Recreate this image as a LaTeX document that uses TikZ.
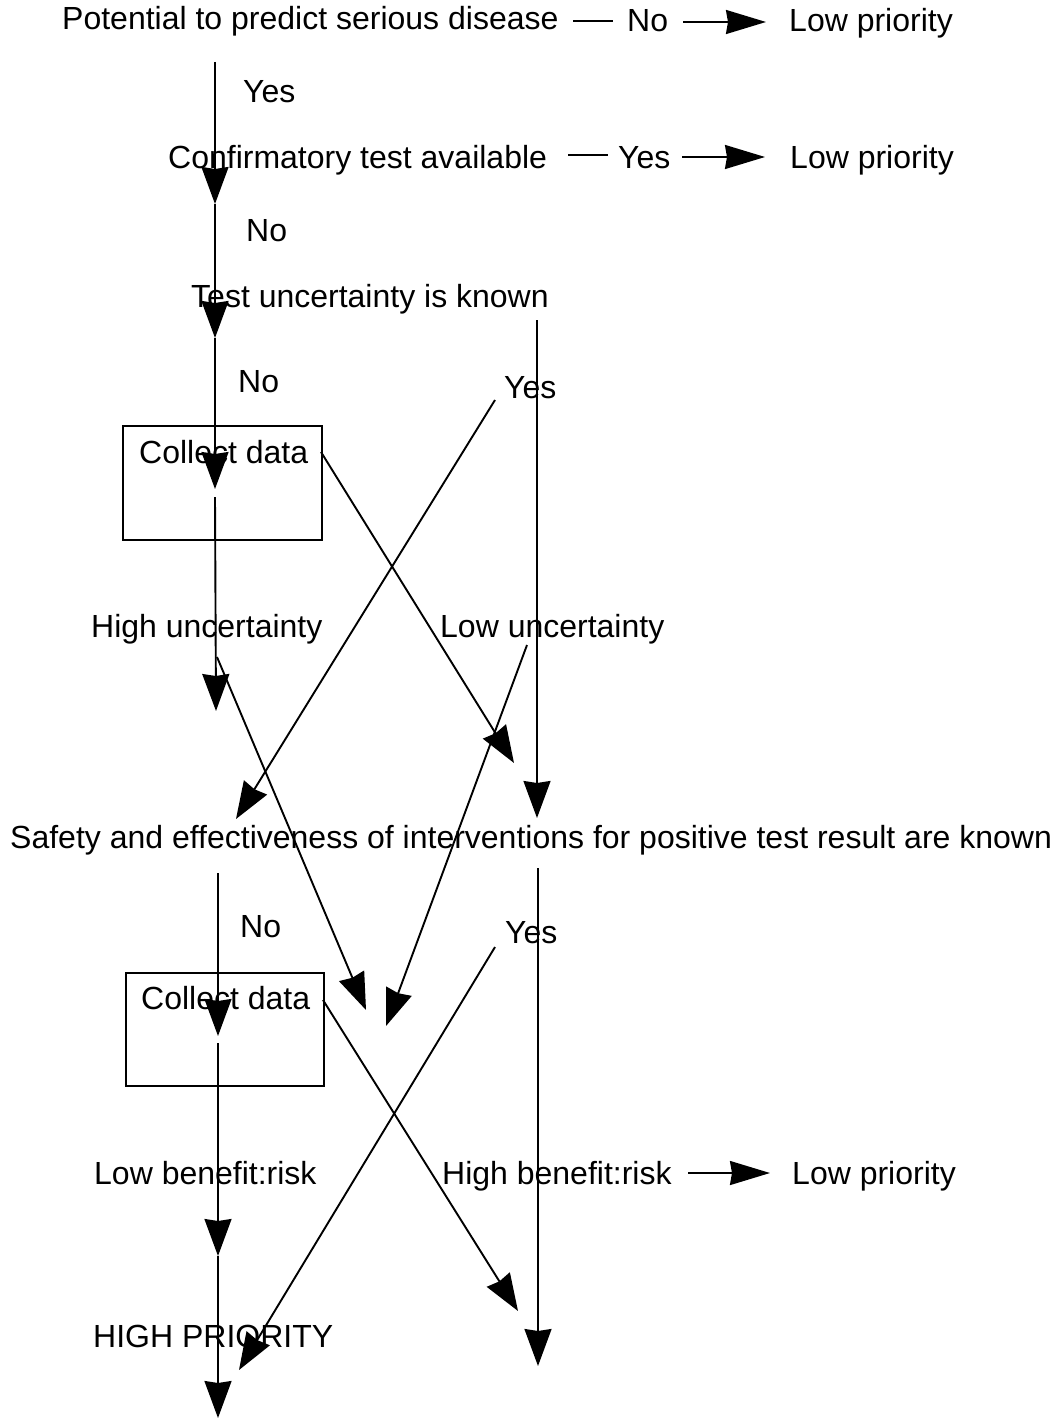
\documentclass[tikz,border=0pt]{standalone}
\usepackage{fontspec}
\setmainfont{Liberation Sans}
\usetikzlibrary{arrows.meta}
\begin{document}
\begin{tikzpicture}[x=1pt,y=-1pt,
  txt/.style={inner sep=0pt,anchor=base west,font=\fontsize{32}{37}\selectfont},
  ln/.style={line width=1.9pt},
  arr/.style={line width=1.9pt,-{Stealth[length=37pt,width=27pt,inset=2pt]}},
  harr/.style={line width=1.9pt,-{Stealth[length=40pt,width=24pt,inset=2pt]}},
  boxst/.style={draw,line width=2pt,anchor=north west,inner sep=0pt}]
\useasboundingbox (0,0) rectangle (1055,1418);
% texts
\node[txt] (pot) at (62,30) {Potential to predict serious disease};
\node[txt] (no1) at (627,32) {No};
\node[txt] (lp1) at (789,32) {Low priority};
\node[txt] (yes1) at (243,103) {Yes};
\node[txt] (conf) at (168,168) {Confirmatory test available};
\node[txt] (yes2) at (618,168) {Yes};
\node[txt] (lp2) at (790,168) {Low priority};
\node[txt] (no2) at (246,241) {No};
\node[txt] (test) at (191,307) {Test uncertainty is known};
\node[txt] (no3) at (238,392) {No};
\node[txt] (yes3) at (504,398) {Yes};
\node[boxst,minimum width=199pt,minimum height=114pt] (box1) at (122,425) {};
\node[txt] (cd1) at (139,463) {Collect data};
\node[txt] (hu) at (91,637) {High uncertainty};
\node[txt] (lu) at (440,637) {Low uncertainty};
\node[txt] (safe) at (10,848) {Safety and effectiveness of interventions for positive test result are known};
\node[txt] (no4) at (240,937) {No};
\node[txt] (yes4) at (505,943) {Yes};
\node[boxst,minimum width=198pt,minimum height=113pt] (box2) at (125,972) {};
\node[txt] (cd2) at (141,1009) {Collect data};
\node[txt] (lbr) at (94,1184) {Low benefit:risk};
\node[txt] (hbr) at (442,1184) {High benefit:risk};
\node[txt] (lp3) at (792,1184) {Low priority};
\node[txt] (hp) at (93,1347) {HIGH PRIORITY};
% coordinates
\coordinate (d1a) at (573,21); \coordinate (d1b) at (613,21);
\coordinate (h1a) at (683,22); \coordinate (h1b) at (766,22);
\coordinate (d2a) at (568,155); \coordinate (d2b) at (608,155);
\coordinate (h2a) at (682,157); \coordinate (h2b) at (765,157);
\coordinate (h3a) at (688,1173); \coordinate (h3b) at (770,1173);
\coordinate (v0) at (215,62); \coordinate (v1) at (215,204);
\coordinate (v2) at (215,338); \coordinate (v3) at (215,489);
\coordinate (v4) at (215,497); \coordinate (v5) at (216,711);
\coordinate (r0) at (537,320); \coordinate (r1) at (537,818);
\coordinate (ya) at (495,400); \coordinate (yb) at (236,819);
\coordinate (ca) at (321,452); \coordinate (cb) at (514,763);
\coordinate (ha) at (217,657); \coordinate (hb) at (366,1010);
\coordinate (la) at (527,645); \coordinate (lb) at (386,1026);
\coordinate (w0) at (218,873); \coordinate (w1) at (218,1036);
\coordinate (w2) at (218,1043); \coordinate (w3) at (218,1256);
\coordinate (w4) at (218,1418);
\coordinate (s0) at (538,868); \coordinate (s1) at (538,1366);
\coordinate (yc) at (495,947); \coordinate (yd) at (239,1370);
\coordinate (cc) at (323,1000); \coordinate (cd) at (518,1311);
% connectors
\draw[ln] (d1a) -- (d1b);
\draw[harr] (h1a) -- (h1b);
\draw[ln] (d2a) -- (d2b);
\draw[harr] (h2a) -- (h2b);
\draw[harr] (h3a) -- (h3b);
\draw[arr] (v0) -- (v1);
\draw[arr] (v1) -- (v2);
\draw[arr] (v2) -- (v3);
\draw[arr] (v4) -- (v5);
\draw[arr] (r0) -- (r1);
\draw[arr] (ya) -- (yb);
\draw[arr] (ca) -- (cb);
\draw[arr] (ha) -- (hb);
\draw[arr] (la) -- (lb);
\draw[arr] (w0) -- (w1);
\draw[arr] (w2) -- (w3);
\draw[arr] (w3) -- (w4);
\draw[arr] (s0) -- (s1);
\draw[arr] (yc) -- (yd);
\draw[arr] (cc) -- (cd);
\end{tikzpicture}
\end{document}
